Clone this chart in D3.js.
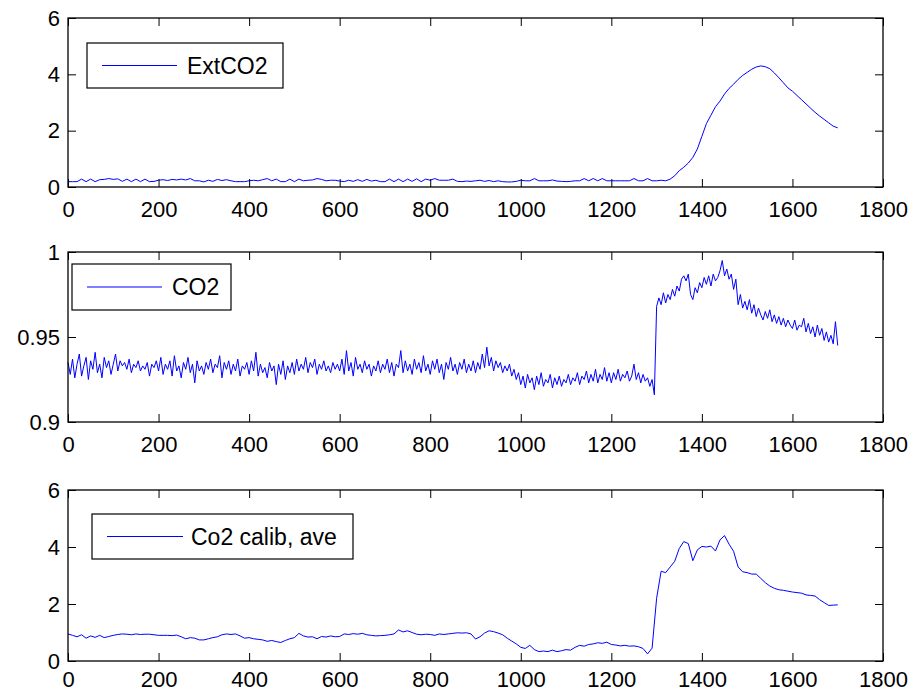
<!DOCTYPE html>
<html><head><meta charset="utf-8">
<script src="https://cdn.jsdelivr.net/npm/d3@7"></script>
<style>body{margin:0;background:#fff}</style>
</head><body>
<svg id="c" width="914" height="692"></svg>
<script>
// ---------------- DATA ----------------
const xTicks = [0, 200, 400, 600, 800, 1000, 1200, 1400, 1600, 1800];
const yTicksTop = [0, 2, 4, 6];
const yTicksMid = [0.9, 0.95, 1];
const yTicksBot = [0, 2, 4, 6];
const yTickLabelsMid = ["0.9", "0.95", "1"];

const legendTop = "ExtCO2";
const legendMid = "CO2";
const legendBot = "Co2 calib, ave";

// sample spacing (x units between stored samples)
const stepExt = 10;
const stepCO2 = 5;
const stepCal = 10;

// ExtCO2, x = 0..1700 every 10
const extCO2 = [
0.19,0.19,0.19,0.28,0.19,0.28,0.19,0.26,0.27,0.30,
0.27,0.29,0.20,0.28,0.19,0.28,0.19,0.28,0.19,0.20,
0.24,0.26,0.23,0.27,0.25,0.28,0.25,0.30,0.22,0.22,
0.18,0.24,0.20,0.27,0.23,0.26,0.22,0.19,0.19,0.19,
0.22,0.24,0.22,0.26,0.30,0.22,0.28,0.19,0.19,0.28,
0.19,0.28,0.22,0.24,0.25,0.30,0.27,0.22,0.24,0.24,
0.21,0.19,0.24,0.20,0.26,0.20,0.27,0.21,0.24,0.19,
0.19,0.28,0.19,0.28,0.19,0.28,0.20,0.29,0.19,0.28,
0.24,0.30,0.24,0.24,0.24,0.28,0.20,0.19,0.21,0.20,
0.22,0.24,0.20,0.23,0.19,0.22,0.19,0.18,0.18,0.20,
0.24,0.22,0.22,0.30,0.22,0.22,0.22,0.25,0.21,0.20,
0.19,0.20,0.22,0.22,0.30,0.22,0.30,0.22,0.30,0.22,
0.22,0.22,0.22,0.22,0.22,0.30,0.22,0.22,0.30,0.22,
0.22,0.24,0.22,0.28,0.40,0.58,0.70,0.85,1.05,1.35,
1.80,2.25,2.55,2.85,3.05,3.30,3.50,3.65,3.82,3.96,
4.07,4.18,4.26,4.30,4.27,4.20,4.05,3.88,3.70,3.52,
3.40,3.25,3.10,2.95,2.80,2.65,2.52,2.40,2.28,2.16,
2.10
];

// CO2, x = 0..1700 every 5
const co2 = [
0.935,0.928,0.937,0.926,0.934,0.940,0.927,0.933,0.938,0.925,0.936,0.931,0.941,0.929,0.934,0.926,0.938,0.932,0.936,0.928,
0.934,0.940,0.930,0.936,0.933,0.935,0.931,0.937,0.929,0.934,0.932,0.936,0.930,0.933,0.931,0.935,0.927,0.934,0.932,0.936,
0.930,0.938,0.928,0.934,0.931,0.936,0.927,0.939,0.930,0.933,0.926,0.935,0.931,0.938,0.929,0.934,0.923,0.936,0.930,0.933,
0.928,0.935,0.931,0.937,0.929,0.934,0.932,0.939,0.926,0.935,0.931,0.936,0.928,0.934,0.930,0.937,0.927,0.933,0.931,0.935,
0.928,0.936,0.930,0.941,0.927,0.934,0.929,0.932,0.926,0.935,0.930,0.933,0.922,0.934,0.928,0.936,0.925,0.933,0.929,0.935,
0.928,0.937,0.930,0.934,0.931,0.938,0.929,0.935,0.932,0.937,0.928,0.934,0.931,0.936,0.930,0.933,0.929,0.935,0.931,0.934,
0.930,0.937,0.928,0.942,0.930,0.935,0.927,0.938,0.931,0.934,0.929,0.936,0.931,0.934,0.927,0.933,0.930,0.936,0.929,0.934,
0.931,0.937,0.929,0.935,0.927,0.934,0.932,0.942,0.929,0.936,0.930,0.934,0.928,0.937,0.931,0.935,0.929,0.939,0.930,0.934,
0.928,0.936,0.931,0.937,0.929,0.934,0.925,0.935,0.931,0.938,0.930,0.934,0.928,0.935,0.931,0.937,0.929,0.934,0.930,0.936,
0.929,0.935,0.931,0.940,0.932,0.944,0.933,0.938,0.930,0.936,0.932,0.935,0.929,0.933,0.930,0.934,0.927,0.931,0.925,0.929,
0.922,0.927,0.920,0.928,0.923,0.926,0.919,0.927,0.922,0.929,0.921,0.925,0.923,0.928,0.920,0.926,0.922,0.927,0.921,0.925,
0.923,0.928,0.922,0.926,0.924,0.929,0.922,0.927,0.925,0.930,0.923,0.928,0.924,0.931,0.923,0.928,0.925,0.932,0.924,0.929,
0.923,0.929,0.925,0.931,0.924,0.928,0.926,0.930,0.924,0.927,0.934,0.925,0.929,0.923,0.928,0.924,0.926,0.921,0.925,0.916,
0.968,0.973,0.969,0.976,0.970,0.975,0.972,0.978,0.974,0.980,0.977,0.984,0.986,0.983,0.987,0.975,0.972,0.979,0.976,0.982,
0.979,0.985,0.981,0.986,0.980,0.987,0.983,0.985,0.989,0.995,0.986,0.990,0.984,0.987,0.978,0.984,0.969,0.975,0.967,0.971,
0.966,0.972,0.964,0.969,0.962,0.967,0.963,0.960,0.965,0.961,0.966,0.959,0.963,0.958,0.962,0.957,0.961,0.956,0.960,0.957,
0.955,0.960,0.954,0.957,0.956,0.961,0.953,0.958,0.952,0.956,0.950,0.957,0.951,0.955,0.948,0.953,0.947,0.951,0.946,0.959,
0.945
];

// Co2 calib, ave, x = 0..1700 every 10
const co2Cal = [
0.95,0.90,0.85,0.92,0.80,0.88,0.83,0.90,0.82,0.86,
0.90,0.93,0.95,0.94,0.92,0.95,0.93,0.94,0.94,0.92,
0.90,0.90,0.90,0.89,0.91,0.85,0.78,0.82,0.80,0.74,
0.74,0.78,0.82,0.85,0.92,0.95,0.93,0.95,0.88,0.80,
0.82,0.78,0.76,0.74,0.69,0.72,0.68,0.65,0.72,0.78,
0.82,0.97,0.88,0.84,0.85,0.78,0.86,0.84,0.88,0.85,
0.86,0.95,0.93,0.96,0.94,0.97,0.92,0.90,0.88,0.89,
0.90,0.92,0.95,1.09,1.02,1.06,1.00,0.94,0.92,0.94,
0.93,0.90,0.95,0.93,0.95,0.97,0.99,0.98,0.99,0.95,
0.77,0.85,0.98,1.06,1.03,0.98,0.92,0.80,0.70,0.60,
0.48,0.44,0.55,0.40,0.33,0.35,0.33,0.38,0.33,0.36,
0.40,0.38,0.48,0.55,0.52,0.58,0.60,0.64,0.62,0.66,
0.58,0.56,0.53,0.55,0.52,0.53,0.50,0.44,0.25,0.45,
2.20,3.15,3.10,3.30,3.50,3.95,4.19,4.12,3.52,3.90,
4.02,4.00,4.03,3.86,4.25,4.40,4.10,3.85,3.30,3.13,
3.10,3.05,3.05,2.90,2.75,2.63,2.55,2.50,2.48,2.45,
2.42,2.40,2.38,2.32,2.30,2.28,2.15,2.05,1.95,1.96,
1.97
];

// ---------------- DRAW ----------------
const svg = d3.select("#c");
const L = 68, R = 883;
const FS = 22;
const FONT = "'Liberation Sans', Arial, Helvetica, sans-serif";

const panels = [
  { top: 18, bottom: 187, domain: [0, 6], ticks: yTicksTop, fmt: d3.format("d"), data: extCO2, step: stepExt, pad: 14,
    legend: legendTop, lg: { x: 87, y: 43, w: 196, h: 45, l1: 102, l2: 177, tx: 187 } },
  { top: 252, bottom: 422, domain: [0.9, 1], ticks: yTicksMid, fmt: (d, i) => yTickLabelsMid[i], data: co2, step: stepCO2, pad: 14,
    legend: legendMid, lg: { x: 72, y: 264, w: 159, h: 46, l1: 87, l2: 162, tx: 172 } },
  { top: 490, bottom: 661, domain: [0, 6], ticks: yTicksBot, fmt: d3.format("d"), data: co2Cal, step: stepCal, pad: 10,
    legend: legendBot, lg: { x: 92, y: 514, w: 261, h: 45, l1: 107, l2: 183, tx: 191 } }
];

const x = d3.scaleLinear().domain([0, 1800]).range([L, R]);

panels.forEach(p => {
  const y = d3.scaleLinear().domain(p.domain).range([p.bottom, p.top]);
  const g = svg.append("g");

  // data line
  const pts = p.data.map((v, i) => [i * p.step, v]);
  g.append("path")
    .datum(pts)
    .attr("fill", "none")
    .attr("stroke", "#0000ff")
    .attr("stroke-width", 1)
    .attr("stroke-linejoin", "round")
    .attr("d", d3.line().x(d => x(d[0])).y(d => y(d[1])));

  // axes
  const ax = (gen, tr) => {
    const a = g.append("g").attr("transform", tr).call(gen);
    a.selectAll(".domain").remove();
    a.selectAll("line").attr("stroke", "#000").attr("stroke-width", 1);
    a.selectAll("text").attr("font-family", FONT).attr("font-size", FS).attr("fill", "#000");
    return a;
  };
  ax(d3.axisBottom(x).tickValues(xTicks).tickSize(-8).tickPadding(p.pad).tickFormat(d3.format("d")),
     `translate(0,${p.bottom})`);
  ax(d3.axisTop(x).tickValues(xTicks).tickSize(-8).tickFormat(""), `translate(0,${p.top})`);
  ax(d3.axisLeft(y).tickValues(p.ticks).tickSize(-8).tickPadding(8).tickFormat(p.fmt),
     `translate(${L},0)`);
  ax(d3.axisRight(y).tickValues(p.ticks).tickSize(-8).tickFormat(""), `translate(${R},0)`);

  // frame
  g.append("rect").attr("x", L).attr("y", p.top).attr("width", R - L).attr("height", p.bottom - p.top)
    .attr("fill", "none").attr("stroke", "#000").attr("stroke-width", 1.3);

  // legend
  const lg = p.lg;
  g.append("rect").attr("x", lg.x).attr("y", lg.y).attr("width", lg.w).attr("height", lg.h)
    .attr("fill", "#fff").attr("stroke", "#000").attr("stroke-width", 1.2);
  const ly = lg.y + lg.h / 2;
  g.append("line").attr("x1", lg.l1).attr("x2", lg.l2).attr("y1", ly).attr("y2", ly)
    .attr("stroke", "#0000ff").attr("stroke-width", 1);
  g.append("text").attr("x", lg.tx).attr("y", ly).attr("dy", "0.35em")
    .attr("font-family", FONT).attr("font-size", 23).attr("fill", "#000").text(p.legend);
});
</script>
</body></html>
